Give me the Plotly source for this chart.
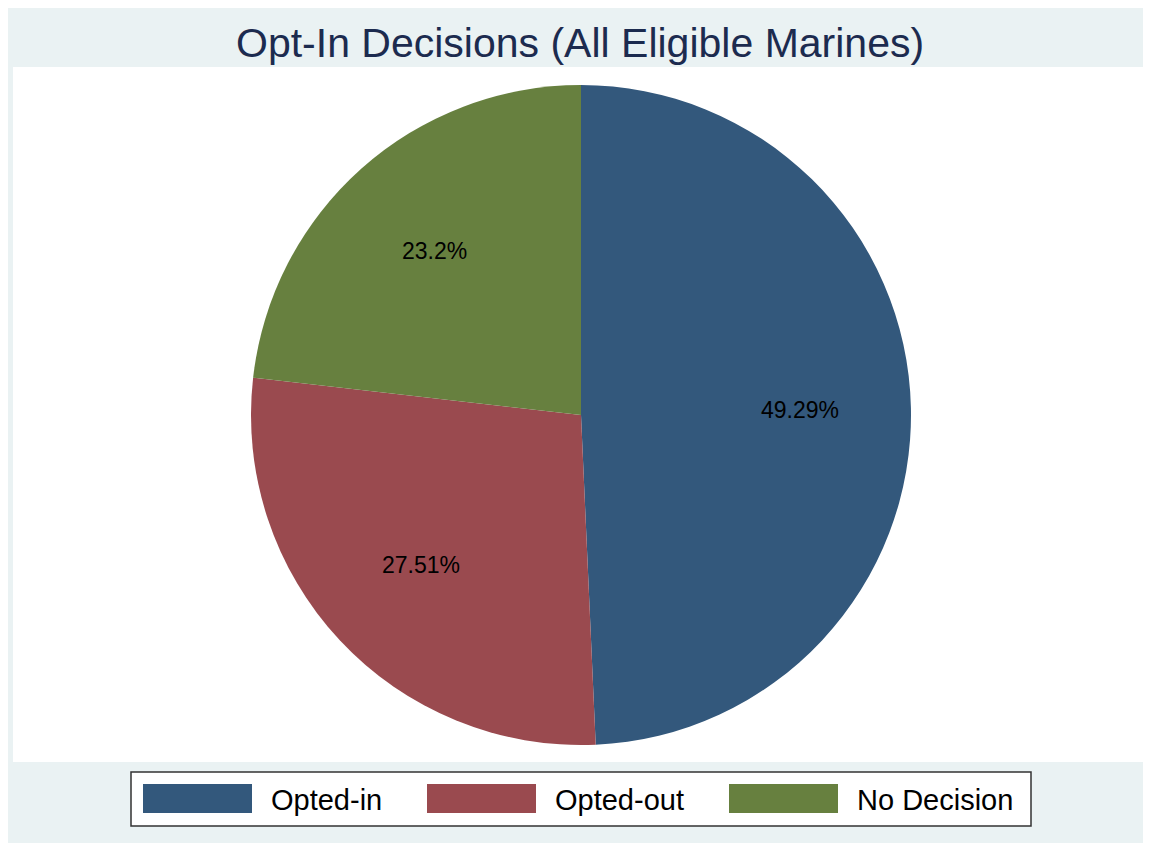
import math
import plotly.graph_objects as go

# ---- data ----
categories = ["Opted-in", "Opted-out", "No Decision"]
percents = [49.29, 27.51, 23.2]
colors = ["#33587C", "#9A4A4F", "#67803F"]
title_text = "Opt-In Decisions (All Eligible Marines)"

# ---- layout constants (pixels in the 1151x843 page) ----
PAGE_W, PAGE_H = 1151, 843
OFF = 8  # default page body margin
W, H = PAGE_W - OFF, PAGE_H - OFF
CX, CY, R = 581, 415, 330
LABEL_R = 0.665
FONT = "Liberation Sans, Arial, sans-serif"

def px(x):
    return (x - OFF) / W

def py(y):
    return 1 - (y - OFF) / H

fig = go.Figure()
fig.add_trace(go.Pie(
    labels=categories,
    values=percents,
    marker=dict(colors=colors, line=dict(width=0)),
    sort=False,
    direction="clockwise",
    rotation=0,
    textinfo="none",
    hoverinfo="label+percent",
    showlegend=False,
    domain=dict(x=[px(CX - R), px(CX + R)], y=[py(CY + R), py(CY - R)]),
))

shapes = [
    # outer light background
    dict(type="rect", xref="paper", yref="paper", x0=0, x1=1, y0=0, y1=1,
         fillcolor="#EAF2F3", line=dict(width=0), layer="below"),
    # plot region
    dict(type="rect", xref="paper", yref="paper", x0=px(13), x1=1, y0=py(762), y1=py(67),
         fillcolor="#FFFFFF", line=dict(width=0), layer="below"),
    # legend box
    dict(type="rect", xref="paper", yref="paper", x0=px(131), x1=px(1031), y0=py(826), y1=py(772),
         fillcolor="#FFFFFF", line=dict(color="#333333", width=1.5), layer="below"),
]

annotations = []

# slice percentage labels, placed along each slice's mid-angle
total = sum(percents)
cum = 0.0
for v in percents:
    mid = (cum + v / 2) / total * 2 * math.pi
    cum += v
    lx = CX + LABEL_R * R * math.sin(mid)
    ly = CY - LABEL_R * R * math.cos(mid)
    annotations.append(dict(
        x=px(lx), y=py(ly), xref="paper", yref="paper", text=f"{v:g}%",
        showarrow=False, xanchor="center", yanchor="middle",
        font=dict(family=FONT, size=23, color="#000000"),
    ))

# legend (keys + text)
key_left = [143, 427, 729]
KEY_W, KEY_TOP, KEY_BOT = 109, 784, 813
for cat, col, kl in zip(categories, colors, key_left):
    shapes.append(dict(type="rect", xref="paper", yref="paper",
                       x0=px(kl), x1=px(kl + KEY_W), y0=py(KEY_BOT), y1=py(KEY_TOP),
                       fillcolor=col, line=dict(width=0)))
    annotations.append(dict(
        x=px(kl + KEY_W + 17), y=py(799.5), xref="paper", yref="paper", text=cat,
        showarrow=False, xanchor="left", yanchor="middle",
        font=dict(family=FONT, size=29, color="#000000"),
    ))

# title
annotations.append(dict(
    x=px(580), y=py(43), xref="paper", yref="paper", text=title_text,
    showarrow=False, xanchor="center", yanchor="middle",
    font=dict(family=FONT, size=41, color="#1C2B4F"),
))

fig.update_layout(
    width=W, height=H,
    margin=dict(l=0, r=0, t=0, b=0),
    paper_bgcolor="#EAF2F3",
    plot_bgcolor="#FFFFFF",
    shapes=shapes,
    annotations=annotations,
)

fig.write_html("out.html")
